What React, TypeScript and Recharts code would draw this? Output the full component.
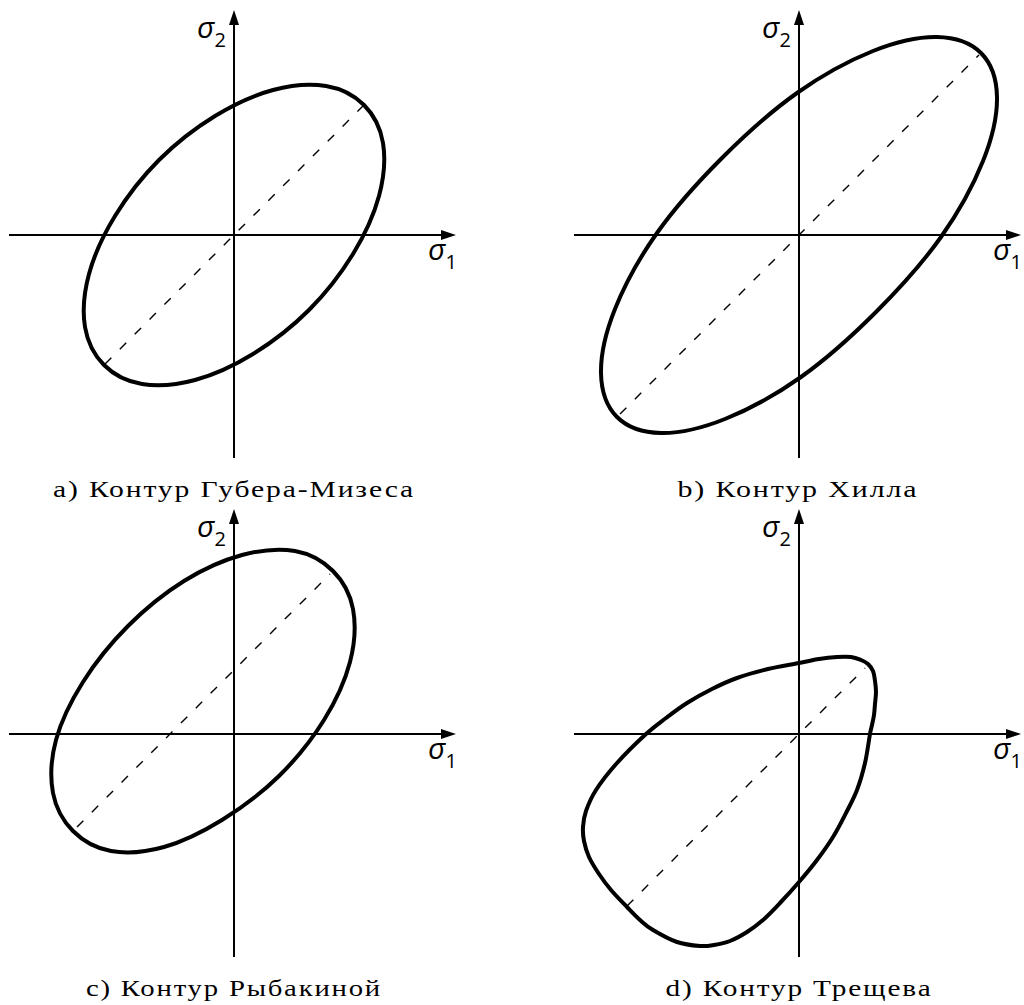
import React from 'react';
import { LineChart, Line, XAxis, YAxis, ReferenceLine } from 'recharts';

type Pt = { x: number; y: number };

// Contour points in σ1/σ2 units, traced clockwise from the upper right
const contourMises: Pt[] = [
  { x: 1.3, y: 1.3 }, { x: 0.92, y: 1.49 }, { x: 0.39, y: 1.45 }, { x: -0.19, y: 1.19 },
  { x: -0.75, y: 0.75 }, { x: -1.19, y: 0.19 }, { x: -1.45, y: -0.39 }, { x: -1.49, y: -0.92 },
  { x: -1.3, y: -1.3 }, { x: -0.92, y: -1.49 }, { x: -0.39, y: -1.45 }, { x: 0.19, y: -1.19 },
  { x: 0.75, y: -0.75 }, { x: 1.19, y: -0.19 }, { x: 1.45, y: 0.39 }, { x: 1.49, y: 0.92 },
];

const contourHill: Pt[] = [
  { x: 1.82, y: 1.82 }, { x: 1.38, y: 1.98 }, { x: 0.74, y: 1.84 }, { x: -0.02, y: 1.42 },
  { x: -0.77, y: 0.77 }, { x: -1.42, y: 0.02 }, { x: -1.84, y: -0.74 }, { x: -1.98, y: -1.38 },
  { x: -1.82, y: -1.82 }, { x: -1.38, y: -1.98 }, { x: -0.74, y: -1.84 }, { x: 0.02, y: -1.42 },
  { x: 0.77, y: -0.77 }, { x: 1.42, y: -0.02 }, { x: 1.84, y: 0.74 }, { x: 1.98, y: 1.38 },
];

const contourRybakina: Pt[] = [
  { x: 0.99, y: 1.63 }, { x: 0.61, y: 1.83 }, { x: 0.08, y: 1.79 }, { x: -0.5, y: 1.53 },
  { x: -1.06, y: 1.08 }, { x: -1.51, y: 0.52 }, { x: -1.78, y: -0.06 }, { x: -1.81, y: -0.59 },
  { x: -1.61, y: -0.97 }, { x: -1.23, y: -1.17 }, { x: -0.7, y: -1.13 }, { x: -0.12, y: -0.86 },
  { x: 0.45, y: -0.42 }, { x: 0.9, y: 0.14 }, { x: 1.16, y: 0.72 }, { x: 1.19, y: 1.25 },
];

const contourTreshchev: Pt[] = [
  { x: 0.0, y: 0.71 }, { x: 0.2, y: 0.75 }, { x: 0.38, y: 0.77 }, { x: 0.52, y: 0.77 },
  { x: 0.62, y: 0.74 }, { x: 0.69, y: 0.7 }, { x: 0.74, y: 0.63 }, { x: 0.76, y: 0.53 },
  { x: 0.77, y: 0.42 }, { x: 0.76, y: 0.3 }, { x: 0.75, y: 0.19 }, { x: 0.73, y: 0.09 },
  { x: 0.71, y: 0.0 }, { x: 0.66, y: -0.29 }, { x: 0.58, y: -0.56 }, { x: 0.47, y: -0.79 },
  { x: 0.34, y: -1.03 }, { x: 0.18, y: -1.26 }, { x: 0.0, y: -1.48 }, { x: -0.19, y: -1.69 },
  { x: -0.36, y: -1.86 }, { x: -0.52, y: -1.98 }, { x: -0.69, y: -2.07 }, { x: -0.85, y: -2.11 },
  { x: -0.99, y: -2.12 }, { x: -1.22, y: -2.08 }, { x: -1.46, y: -1.96 }, { x: -1.59, y: -1.86 },
  { x: -1.72, y: -1.73 }, { x: -1.88, y: -1.56 }, { x: -2.0, y: -1.4 }, { x: -2.1, y: -1.23 },
  { x: -2.15, y: -1.07 }, { x: -2.16, y: -0.93 }, { x: -2.13, y: -0.77 }, { x: -2.03, y: -0.56 },
  { x: -1.82, y: -0.29 }, { x: -1.53, y: 0.0 }, { x: -1.33, y: 0.16 }, { x: -1.12, y: 0.31 },
  { x: -0.87, y: 0.45 }, { x: -0.62, y: 0.56 }, { x: -0.31, y: 0.65 },
];

// Dashed diagonals (equal biaxial loading line)
const diagMises: Pt[] = [{ x: -1.29, y: -1.29 }, { x: 1.29, y: 1.29 }];
const diagHill: Pt[] = [{ x: -1.79, y: -1.79 }, { x: 1.8, y: 1.8 }];
const diagRybakina: Pt[] = [{ x: -1.57, y: -0.93 }, { x: 0.96, y: 1.6 }];
const diagTreshchev: Pt[] = [{ x: -1.72, y: -1.72 }, { x: 0.66, y: 0.66 }];

// Axis extents [from, to]
const sigma1Range = [-2.25, 2.22];
const sigma2Range = [-2.23, 2.25];

const captions = [
  'a) Контур Губера-Мизеса',
  'b) Контур Хилла',
  'c) Контур Рыбакиной',
  'd) Контур Трещева',
];

// closed Catmull-Rom curve so the contour passes through every point and closes smoothly
const closedCatmullRom = (context: any) => {
  let pts: [number, number][] = [];
  return {
    areaStart() {},
    areaEnd() {},
    lineStart() {
      pts = [];
    },
    point(x: number, y: number) {
      pts.push([x, y]);
    },
    lineEnd() {
      const n = pts.length;
      if (!n) return;
      context.moveTo(pts[0][0], pts[0][1]);
      for (let i = 0; i < n; i++) {
        const p0 = pts[(i - 1 + n) % n];
        const p1 = pts[i];
        const p2 = pts[(i + 1) % n];
        const p3 = pts[(i + 2) % n];
        context.bezierCurveTo(
          p1[0] + (p2[0] - p0[0]) / 6,
          p1[1] + (p2[1] - p0[1]) / 6,
          p2[0] - (p3[0] - p1[0]) / 6,
          p2[1] - (p3[1] - p1[1]) / 6,
          p2[0],
          p2[1]
        );
      }
      context.closePath();
    },
  };
};

const SIGMA_FONT = '"Open Sans", "DejaVu Sans", sans-serif';

// axis line with an arrowhead at its far end and the σ label
const arrowAxis = (sub: string, vertical: boolean) => (props: any) => {
  const { x1, y1, x2, y2 } = props;
  const len = Math.hypot(x2 - x1, y2 - y1) || 1;
  const ux = (x2 - x1) / len;
  const uy = (y2 - y1) / len;
  const L = 15;
  const W = 5;
  const bx = x2 - ux * L;
  const by = y2 - uy * L;
  const tip = `${x2},${y2} ${bx - uy * W},${by + ux * W} ${bx + uy * W},${by - ux * W}`;
  const lx = vertical ? x2 - 37 : x2 - 28;
  const ly = vertical ? y2 + 28 : y2 + 25;
  return (
    <g>
      <line x1={x1} y1={y1} x2={bx + ux * 2} y2={by + uy * 2} stroke="#000" strokeWidth={2} />
      <polygon points={tip} fill="#000" />
      <text
        x={lx}
        y={ly}
        style={{ fontFamily: SIGMA_FONT, fontSize: 30, fontStyle: 'italic', fontWeight: 500 }}
        fill="#000"
      >
        σ
        <tspan style={{ fontSize: 20, fontStyle: 'normal' }} dy={9}>
          {sub}
        </tspan>
      </text>
    </g>
  );
};

interface PanelProps {
  left: number;
  top: number;
  contour: Pt[];
  diagonal: Pt[];
}

function Panel({ left, top, contour, diagonal }: PanelProps) {
  return (
    <div style={{ position: 'absolute', left, top }}>
      <LineChart width={460} height={470} margin={{ top: 0, right: 0, bottom: 0, left: 0 }}>
        <XAxis type="number" dataKey="x" domain={[-2.34, 2.26]} allowDataOverflow hide />
        <YAxis type="number" dataKey="y" domain={[-2.35, 2.35]} allowDataOverflow hide />
        <ReferenceLine
          segment={[{ x: sigma1Range[0], y: 0 }, { x: sigma1Range[1], y: 0 }]}
          ifOverflow="visible"
          shape={arrowAxis('1', false)}
        />
        <ReferenceLine
          segment={[{ x: 0, y: sigma2Range[0] }, { x: 0, y: sigma2Range[1] }]}
          ifOverflow="visible"
          shape={arrowAxis('2', true)}
        />
        <Line
          data={diagonal}
          dataKey="y"
          type="linear"
          stroke="#000"
          strokeWidth={1.4}
          strokeDasharray="9 12"
          dot={false}
          activeDot={false}
          isAnimationActive={false}
        />
        <Line
          data={contour}
          dataKey="y"
          type={closedCatmullRom as any}
          stroke="#000"
          strokeWidth={4}
          fill="none"
          dot={false}
          activeDot={false}
          isAnimationActive={false}
        />
      </LineChart>
    </div>
  );
}

// caption centre x (under the σ2 axis), baseline y, text width
const captionPos = [
  { x: 234, y: 497, w: 362 },
  { x: 798, y: 497, w: 241 },
  { x: 234, y: 996, w: 296 },
  { x: 799, y: 996, w: 267 },
];

export default function App() {
  return (
    <div
      style={{
        position: 'absolute',
        left: 0,
        top: 0,
        width: 1024,
        height: 1005,
        background: '#fff',
        overflow: 'hidden',
      }}
    >
      <Panel left={0} top={0} contour={contourMises} diagonal={diagMises} />
      <Panel left={565} top={0} contour={contourHill} diagonal={diagHill} />
      <Panel left={0} top={499} contour={contourRybakina} diagonal={diagRybakina} />
      <Panel left={565} top={499} contour={contourTreshchev} diagonal={diagTreshchev} />
      <svg
        width={1024}
        height={1005}
        style={{ position: 'absolute', left: 0, top: 0, pointerEvents: 'none' }}
      >
        {captions.map((c, i) => (
          <text
            key={c}
            x={captionPos[i].x}
            y={captionPos[i].y}
            textAnchor="middle"
            textLength={captionPos[i].w}
            lengthAdjust="spacingAndGlyphs"
            style={{ fontFamily: "'Liberation Serif', serif", fontSize: 24, letterSpacing: 1.5 }}
            fill="#000"
          >
            {c}
          </text>
        ))}
      </svg>
    </div>
  );
}
